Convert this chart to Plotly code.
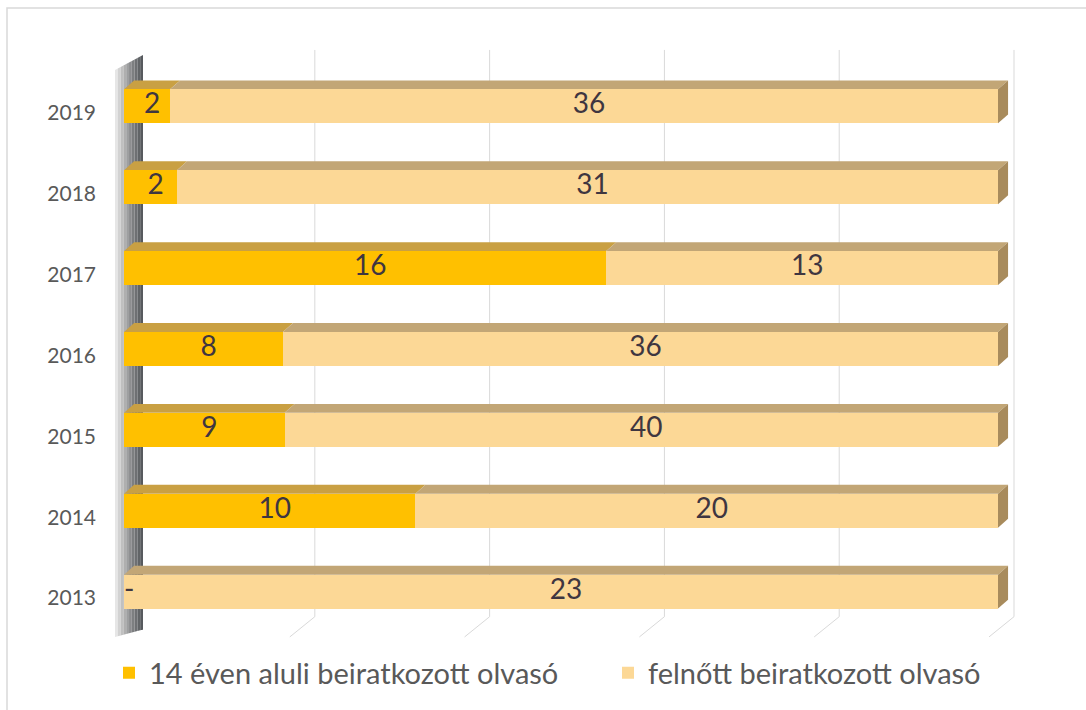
import plotly.graph_objects as go

# Beiratkozott olvasók évenként (100%-os halmozott sávdiagram, térhatású stílusban)
years = ["2013", "2014", "2015", "2016", "2017", "2018", "2019"]
under14 = [0, 10, 9, 8, 16, 2, 2]
adult = [23, 20, 40, 36, 13, 31, 36]
series_names = ["14 éven aluli beiratkozott olvasó", "felnőtt beiratkozott olvasó"]

GOLD = "#FFC000"
GOLD_TOP = "#C9A043"
TAN = "#FCD896"
TAN_TOP = "#C2A676"
TAN_SIDE = "#A88B5C"
LABEL = "#3F3640"
AXIS_TXT = "#595959"
GRID = "#D9D9D9"
FONT = "Lato"

pos = list(range(len(years)))
BAR_W = 0.42
BAR_SHIFT = 0.08          # bars sit slightly above their category tick
DX, DY = 1.15, 0.11       # bar depth (x in %, y in category units)

totals = [u + a for u, a in zip(under14, adult)]
pct_u = [u / t * 100 for u, t in zip(under14, totals)]

fig = go.Figure()

fig.add_trace(go.Bar(
    y=pos, x=under14, orientation="h", name=series_names[0],
    marker=dict(color=GOLD, line=dict(width=0)),
    width=BAR_W, offset=BAR_SHIFT - BAR_W / 2, hoverinfo="skip",
    legend="legend",
))
fig.add_trace(go.Bar(
    y=pos, x=adult, orientation="h", name=series_names[1],
    marker=dict(color=TAN, line=dict(width=0)),
    width=BAR_W, offset=BAR_SHIFT - BAR_W / 2, hoverinfo="skip",
    legend="legend2",
))

# data labels centred on each (3D) segment
lx, ly, lt, lp = [], [], [], []
for i, (u, a, pu) in enumerate(zip(under14, adult, pct_u)):
    yc = i + BAR_SHIFT
    if u == 0:
        lx.append(0); lt.append("-"); lp.append("middle right")
    else:
        lx.append(pu / 2 + DX / 2); lt.append(str(u)); lp.append("middle center")
    ly.append(yc)
    lx.append(pu + (100 - pu) / 2 + DX / 2); ly.append(yc); lt.append(str(a)); lp.append("middle center")
fig.add_trace(go.Scatter(
    x=lx, y=ly, text=lt, mode="text", textposition=lp,
    textfont=dict(family=FONT, size=28, color=LABEL),
    showlegend=False, hoverinfo="skip",
))

shapes = []

# left wall with a horizontal shading
wall_x0, wall_x1 = -1.03, 2.17
wall_top0, wall_top1 = 6.53, 6.715
wall_bot0, wall_bot1 = -0.48, -0.39
wall_cols = ["#E6E6E6", "#D2D2D2", "#C0C0C0", "#AFAFAF", "#9E9FA0",
             "#8D8E90", "#7D7F81", "#6E7073", "#616467", "#575A5E"]
n = len(wall_cols)
for k, c in enumerate(wall_cols):
    t0, t1 = k / n, (k + 1) / n
    xa = wall_x0 + (wall_x1 - wall_x0) * t0
    xb = wall_x0 + (wall_x1 - wall_x0) * t1
    ta = wall_top0 + (wall_top1 - wall_top0) * t0
    tb = wall_top0 + (wall_top1 - wall_top0) * t1
    ba = wall_bot0 + (wall_bot1 - wall_bot0) * t0
    bb = wall_bot0 + (wall_bot1 - wall_bot0) * t1
    shapes.append(dict(type="path", xref="x", yref="y", layer="below",
                       path=f"M{xa},{ba} L{xa},{ta} L{xb},{tb} L{xb},{bb} Z",
                       fillcolor=c, line=dict(width=0)))

# back-wall gridlines and floor lines
G_BACK = 1.83
G_TOP, G_BOT = 6.777, -0.23
F_DX, F_Y = -2.86, -0.48
for p in [20, 40, 60, 80, 100]:
    xb = p + G_BACK
    shapes.append(dict(type="path", xref="x", yref="y", layer="below",
                       path=f"M{xb},{G_TOP} L{xb},{G_BOT} L{xb + F_DX},{F_Y}",
                       line=dict(color=GRID, width=1)))

# top faces and right end faces of the bars
for i, pu in enumerate(pct_u):
    top = i + BAR_SHIFT + BAR_W / 2
    bot = i + BAR_SHIFT - BAR_W / 2
    segs = [(0, pu, GOLD_TOP), (pu, 100, TAN_TOP)]
    for x0, x1, c in segs:
        if x1 - x0 <= 0:
            continue
        shapes.append(dict(type="path", xref="x", yref="y", layer="below",
                           path=f"M{x0},{top} L{x1},{top} L{x1 + DX},{top + DY} L{x0 + DX},{top + DY} Z",
                           fillcolor=c, line=dict(width=0)))
    shapes.append(dict(type="path", xref="x", yref="y", layer="below",
                       path=f"M100,{top} L{100 + DX},{top + DY} L{100 + DX},{bot + DY} L100,{bot} Z",
                       fillcolor=TAN_SIDE, line=dict(width=0)))

# chart border (top and left edges visible)
shapes.append(dict(type="rect", xref="paper", yref="paper", layer="below",
                   x0=-0.1, x1=1.2, y0=-0.2, y1=1.053,
                   line=dict(color=GRID, width=1.5), fillcolor="rgba(0,0,0,0)"))

legend_style = dict(orientation="h", xanchor="left", y=-0.0463, yanchor="middle",
                    font=dict(family=FONT, size=29, color=AXIS_TXT),
                    bgcolor="rgba(0,0,0,0)")

fig.update_layout(
    width=1086, height=710,
    margin=dict(l=100, r=56, t=40, b=65),
    paper_bgcolor="white", plot_bgcolor="white",
    barmode="stack", barnorm="percent",
    shapes=shapes,
    font=dict(family=FONT, color=AXIS_TXT),
    xaxis=dict(range=[-2.75, 103.66], showgrid=False, zeroline=False,
               showticklabels=False, showline=False),
    yaxis=dict(range=[-0.58, 6.90], tickvals=pos, ticktext=years,
               showgrid=False, zeroline=False, showline=False, ticks="",
               tickfont=dict(family=FONT, size=21, color=AXIS_TXT),
               ticklabelstandoff=3),
    legend=dict(x=9 / 930, **legend_style),
    legend2=dict(x=508 / 930, **legend_style),
    showlegend=True,
)

fig.write_html("out.html")
